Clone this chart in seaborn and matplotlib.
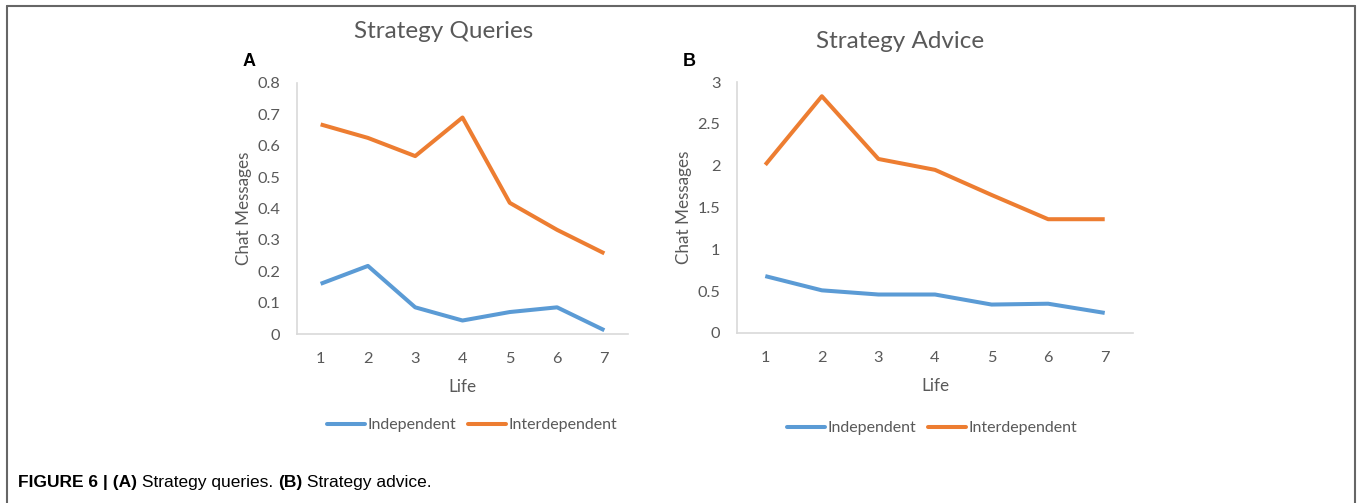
import matplotlib
matplotlib.use("Agg")
import matplotlib.pyplot as plt
import seaborn as sns
import pandas as pd
from matplotlib.lines import Line2D

life = [1, 2, 3, 4, 5, 6, 7]
groups = ["Independent", "Interdependent"]

# (A) Strategy queries
queries_independent = [0.16, 0.217, 0.085, 0.043, 0.07, 0.085, 0.012]
queries_interdependent = [0.668, 0.625, 0.567, 0.69, 0.418, 0.332, 0.257]

# (B) Strategy advice
advice_independent = [0.68, 0.51, 0.46, 0.46, 0.34, 0.35, 0.24]
advice_interdependent = [2.01, 2.83, 2.08, 1.95, 1.65, 1.36, 1.36]

queries_yticks = [0, 0.1, 0.2, 0.3, 0.4, 0.5, 0.6, 0.7, 0.8]
advice_yticks = [0, 0.5, 1, 1.5, 2, 2.5, 3]

colors = {"Independent": "#5b9bd5", "Interdependent": "#ed7d31"}
text_gray = "#595959"

sns.set_theme(style="white")
plt.rcParams["font.family"] = ["Lato", "DejaVu Sans"]


def long_frame(indep, inter):
    return pd.DataFrame({
        "Life": life * 2,
        "value": indep + inter,
        "group": [groups[0]] * len(life) + [groups[1]] * len(life),
    })


W, H = 1357, 503
fig = plt.figure(figsize=(W / 100, H / 100), dpi=100)


def px_axes(left, top, right, bottom):
    return fig.add_axes([left / W, 1 - bottom / H, (right - left) / W, (bottom - top) / H])


def draw_panel(ax, df, ymax, yticks, fmt):
    sns.lineplot(data=df, x="Life", y="value", hue="group", palette=colors,
                 linewidth=2.9, ax=ax, legend=False)
    ax.set_xlim(0.5, 7.5)
    ax.set_ylim(0, ymax)
    ax.set_xticks(life)
    ax.set_yticks(yticks)
    ax.set_yticklabels([fmt(v) for v in yticks])
    ax.tick_params(axis="both", length=0, labelsize=11.8, colors=text_gray)
    ax.tick_params(axis="y", pad=12)
    ax.tick_params(axis="x", pad=13)
    for side in ["top", "right"]:
        ax.spines[side].set_visible(False)
    for side in ["left", "bottom"]:
        ax.spines[side].set_color("#d9d9d9")
        ax.spines[side].set_linewidth(1.2)
    ax.set_xlabel("Life", fontsize=12.3, color=text_gray, labelpad=9)
    ax.set_ylabel("Chat Messages", fontsize=12.3, color=text_gray, labelpad=4)
    ax.grid(False)
    for line in ax.get_lines():
        line.set_solid_capstyle("butt")


ax_a = px_axes(297, 83, 628, 334)
draw_panel(ax_a, long_frame(queries_independent, queries_interdependent),
           0.8, queries_yticks, lambda v: "0" if v == 0 else f"{v:g}")

ax_b = px_axes(737, 82, 1133, 333)
draw_panel(ax_b, long_frame(advice_independent, advice_interdependent),
           3, advice_yticks, lambda v: f"{v:g}")

# panel titles and letters
fig.text(444 / W, 1 - 32 / H, "Strategy Queries", ha="center", va="center",
         fontsize=17.5, color=text_gray)
fig.text(900 / W, 1 - 41 / H, "Strategy Advice", ha="center", va="center",
         fontsize=17.5, color=text_gray)
fig.text(243 / W, 1 - 61 / H, "A", ha="left", va="center", fontsize=13,
         fontweight="bold", color="black", family=["Liberation Sans", "DejaVu Sans"])
fig.text(683 / W, 1 - 61 / H, "B", ha="left", va="center", fontsize=13,
         fontweight="bold", color="black", family=["Liberation Sans", "DejaVu Sans"])

# legends below each panel
handles = [Line2D([], [], color=colors[g], linewidth=2.9) for g in groups]
for cx, cy in [(472, 425), (932, 428)]:
    fig.legend(handles, groups, loc="center", bbox_to_anchor=(cx / W, 1 - cy / H),
               ncol=2, frameon=False, fontsize=11.5, handlelength=2.4,
               handletextpad=0.15, columnspacing=0.7, labelcolor=text_gray)

# frame around the figure (top, left, right)
frame_kw = dict(color="#666666", linewidth=1.5, transform=fig.transFigure)
fig.add_artist(Line2D([7 / W, 1355 / W], [1 - 6 / H, 1 - 6 / H], **frame_kw))
fig.add_artist(Line2D([7 / W, 7 / W], [0, 1 - 6 / H], **frame_kw))
fig.add_artist(Line2D([1355 / W, 1355 / W], [0, 1 - 6 / H], **frame_kw))

# caption with bold and regular parts
cap_family = ["Liberation Sans", "DejaVu Sans"]
parts = [("FIGURE 6 | (A)", "bold"), (" Strategy queries. ", "normal"),
         ("(B)", "bold"), (" Strategy advice.", "normal")]
fig.canvas.draw()
renderer = fig.canvas.get_renderer()
x = 18
for txt, weight in parts:
    t = fig.text(x / W, 1 - 482 / H, txt, ha="left", va="center", fontsize=12.5,
                 fontweight=weight, color="black", family=cap_family)
    x += t.get_window_extent(renderer).width

fig.savefig("out.png", dpi=100)
